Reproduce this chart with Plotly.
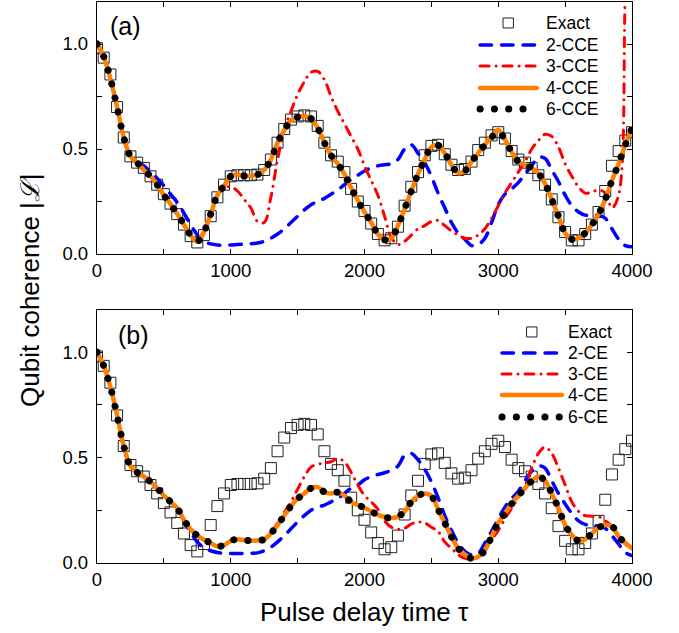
import plotly.graph_objects as go

# ---------------- data ----------------
tau = list(range(0, 4001, 50))

exact = [0.98, 0.935, 0.855, 0.70, 0.555, 0.465, 0.435, 0.41, 0.37, 0.33,
         0.285, 0.24, 0.19, 0.14, 0.085, 0.055, 0.09, 0.18, 0.27, 0.33,
         0.37, 0.375, 0.375, 0.375, 0.378, 0.40, 0.45, 0.53, 0.595, 0.64,
         0.655, 0.66, 0.655, 0.61, 0.53, 0.47, 0.44, 0.39, 0.31, 0.25,
         0.205, 0.145, 0.095, 0.065, 0.075, 0.13, 0.23, 0.32, 0.39, 0.47,
         0.515, 0.52, 0.475, 0.425, 0.40, 0.405, 0.44, 0.495, 0.53, 0.565,
         0.58, 0.55, 0.49, 0.45, 0.435, 0.41, 0.375, 0.33, 0.26, 0.175,
         0.105, 0.065, 0.065, 0.095, 0.14, 0.20, 0.30, 0.42, 0.49, 0.54,
         0.58]

# panel (a): CCE
cce2 = [1.0, 0.94, 0.835, 0.70, 0.555, 0.465, 0.435, 0.42, 0.39, 0.36,
        0.325, 0.285, 0.245, 0.195, 0.14, 0.09, 0.06, 0.048, 0.043, 0.042,
        0.043, 0.045, 0.047, 0.049, 0.052, 0.06, 0.075, 0.095, 0.12, 0.15,
        0.18, 0.21, 0.235, 0.25, 0.265, 0.285, 0.305, 0.33, 0.355, 0.375,
        0.395, 0.41, 0.42, 0.425, 0.43, 0.45, 0.50, 0.52, 0.48, 0.435,
        0.37, 0.29, 0.22, 0.15, 0.10, 0.07, 0.04, 0.045, 0.075, 0.15,
        0.235, 0.285, 0.31, 0.34, 0.38, 0.42, 0.46, 0.455, 0.40, 0.345,
        0.28, 0.23, 0.20, 0.185, 0.185, 0.185, 0.17, 0.12, 0.07, 0.04,
        0.035]
cce3 = [1.0, 0.94, 0.835, 0.70, 0.555, 0.465, 0.435, 0.40, 0.37, 0.33,
        0.28, 0.237, 0.19, 0.14, 0.09, 0.06, 0.105, 0.19, 0.28, 0.315,
        0.32, 0.30, 0.26, 0.22, 0.155, 0.15, 0.27, 0.45, 0.59, 0.68,
        0.76, 0.82, 0.865, 0.87, 0.83, 0.75, 0.68, 0.62, 0.56, 0.50,
        0.42, 0.35, 0.28, 0.18, 0.08, 0.045, 0.06, 0.09, 0.12, 0.135,
        0.155, 0.16, 0.135, 0.11, 0.09, 0.075, 0.075, 0.09, 0.12, 0.17,
        0.23, 0.29, 0.34, 0.39, 0.44, 0.50, 0.54, 0.57, 0.56, 0.51,
        0.43, 0.37, 0.32, 0.29, 0.295, 0.305, 0.29, 0.22, 0.28, 1.25,
        2.2]
cce4 = [1.0, 0.94, 0.835, 0.70, 0.555, 0.465, 0.435, 0.40, 0.37, 0.33,
        0.28, 0.237, 0.19, 0.14, 0.09, 0.06, 0.105, 0.19, 0.28, 0.325,
        0.37, 0.378, 0.372, 0.372, 0.378, 0.40, 0.45, 0.53, 0.59, 0.637,
        0.652, 0.657, 0.645, 0.60, 0.53, 0.47, 0.43, 0.38, 0.315, 0.255,
        0.20, 0.15, 0.095, 0.068, 0.075, 0.135, 0.215, 0.30, 0.38, 0.45,
        0.51, 0.518, 0.48, 0.425, 0.385, 0.395, 0.44, 0.48, 0.52, 0.56,
        0.59, 0.545, 0.485, 0.44, 0.425, 0.41, 0.385, 0.335, 0.26, 0.18,
        0.10, 0.07, 0.075, 0.10, 0.14, 0.19, 0.26, 0.35, 0.43, 0.52,
        0.60]
cce6 = [1.0, 0.94, 0.835, 0.70, 0.555, 0.465, 0.435, 0.40, 0.37, 0.33,
        0.28, 0.237, 0.19, 0.14, 0.09, 0.06, 0.105, 0.19, 0.28, 0.325,
        0.37, 0.378, 0.372, 0.372, 0.378, 0.40, 0.45, 0.53, 0.59, 0.637,
        0.652, 0.657, 0.645, 0.60, 0.53, 0.47, 0.43, 0.38, 0.315, 0.255,
        0.20, 0.15, 0.095, 0.068, 0.075, 0.135, 0.215, 0.30, 0.38, 0.45,
        0.51, 0.518, 0.48, 0.425, 0.385, 0.395, 0.44, 0.48, 0.52, 0.555,
        0.585, 0.545, 0.485, 0.44, 0.425, 0.41, 0.385, 0.335, 0.26, 0.18,
        0.10, 0.07, 0.075, 0.10, 0.14, 0.19, 0.26, 0.35, 0.43, 0.52,
        0.60]

# panel (b): CE
ce2 = [1.0, 0.935, 0.835, 0.70, 0.555, 0.46, 0.43, 0.41, 0.385, 0.355,
       0.32, 0.29, 0.26, 0.20, 0.145, 0.10, 0.072, 0.058, 0.05, 0.046,
       0.045, 0.045, 0.045, 0.046, 0.048, 0.058, 0.075, 0.10, 0.13, 0.162,
       0.195, 0.225, 0.25, 0.265, 0.275, 0.29, 0.305, 0.33, 0.355, 0.37,
       0.395, 0.41, 0.42, 0.428, 0.44, 0.46, 0.51, 0.52, 0.49, 0.445,
       0.385, 0.31, 0.225, 0.155, 0.095, 0.055, 0.038, 0.045, 0.095, 0.15,
       0.21, 0.265, 0.305, 0.34, 0.39, 0.435, 0.46, 0.45, 0.39, 0.33,
       0.28, 0.235, 0.20, 0.183, 0.178, 0.175, 0.165, 0.13, 0.09, 0.05,
       0.035]
ce3 = [1.0, 0.935, 0.835, 0.70, 0.555, 0.46, 0.43, 0.41, 0.385, 0.355,
       0.32, 0.29, 0.26, 0.205, 0.16, 0.13, 0.11, 0.095, 0.078, 0.085,
       0.105, 0.113, 0.108, 0.106, 0.108, 0.115, 0.145, 0.19, 0.24, 0.29,
       0.35, 0.41, 0.455, 0.468, 0.475, 0.48, 0.495, 0.48, 0.43, 0.37,
       0.32, 0.29, 0.255, 0.20, 0.17, 0.16, 0.165, 0.185, 0.195, 0.19,
       0.17, 0.15, 0.10, 0.07, 0.04, 0.022, 0.02, 0.035, 0.065, 0.11,
       0.155, 0.21, 0.26, 0.31, 0.365, 0.45, 0.52, 0.55, 0.52, 0.45,
       0.37, 0.29, 0.245, 0.225, 0.222, 0.22, 0.20, 0.175, 0.125, 0.09,
       0.065]
ce4 = [1.0, 0.935, 0.835, 0.70, 0.555, 0.46, 0.43, 0.41, 0.385, 0.355,
       0.32, 0.29, 0.26, 0.205, 0.16, 0.13, 0.11, 0.095, 0.078, 0.085,
       0.105, 0.113, 0.108, 0.106, 0.107, 0.112, 0.14, 0.18, 0.225, 0.27,
       0.305, 0.33, 0.355, 0.36, 0.337, 0.33, 0.335, 0.32, 0.29, 0.275,
       0.262, 0.245, 0.228, 0.218, 0.213, 0.22, 0.245, 0.29, 0.318, 0.33,
       0.318, 0.255, 0.19, 0.125, 0.07, 0.04, 0.022, 0.03, 0.06, 0.125,
       0.19, 0.235, 0.28, 0.32, 0.355, 0.39, 0.41, 0.39, 0.33, 0.26,
       0.18, 0.133, 0.105, 0.112, 0.14, 0.168, 0.18, 0.175, 0.125, 0.095,
       0.07]
ce6 = list(ce4)

labels_a = ["Exact", "2-CCE", "3-CCE", "4-CCE", "6-CCE"]
labels_b = ["Exact", "2-CE", "3-CE", "4-CE", "6-CE"]

x_ticks = [0, 1000, 2000, 3000, 4000]
y_ticks = [0.0, 0.5, 1.0]

# ---------------- styles ----------------
FONT = "Liberation Sans, Arial, sans-serif"
BLUE, RED, ORANGE = "#0000FF", "#FF0000", "#FF8000"
SQ = "#222222"
DASH_BLUE = "11.5px,10px"
DASH_RED = "9px,7px,0.1px,6.9px"
DASH_DOT = "0.1px,14.2px"

fig = go.Figure()


def add_panel(xa, ya, series):
    ex, s2, s3, s4, s6 = series
    fig.add_trace(go.Scatter(x=tau, y=ex, xaxis=xa, yaxis=ya, mode="markers",
                             marker=dict(symbol="square-open", size=11, color=SQ,
                                         line=dict(width=1, color=SQ)),
                             showlegend=False, hoverinfo="skip"))
    fig.add_trace(go.Scatter(x=tau, y=s2, xaxis=xa, yaxis=ya, mode="lines",
                             line=dict(color=BLUE, width=3.5, dash=DASH_BLUE, shape="spline"),
                             showlegend=False, hoverinfo="skip"))
    fig.add_trace(go.Scatter(x=tau, y=s3, xaxis=xa, yaxis=ya, mode="lines",
                             line=dict(color=RED, width=3, dash=DASH_RED, shape="spline"),
                             showlegend=False, hoverinfo="skip"))
    fig.add_trace(go.Scatter(x=tau, y=s4, xaxis=xa, yaxis=ya, mode="lines",
                             line=dict(color=ORANGE, width=4.5, shape="spline"),
                             showlegend=False, hoverinfo="skip"))
    fig.add_trace(go.Scatter(x=tau, y=s6, xaxis=xa, yaxis=ya, mode="lines",
                             line=dict(color="black", width=7, dash=DASH_DOT, shape="spline"),
                             showlegend=False, hoverinfo="skip"))


add_panel("x", "y", [exact, cce2, cce3, cce4, cce6])
add_panel("x2", "y2", [exact, ce2, ce3, ce4, ce6])

# ---------------- manual legends (paper coordinates) ----------------
def add_legend(labels, rows, x_line0, x_line1, x_text):
    styles = [None,
              dict(color=BLUE, width=3.5, dash=DASH_BLUE),
              dict(color=RED, width=3, dash=DASH_RED),
              dict(color=ORANGE, width=4.5),
              dict(color="black", width=7, dash=DASH_DOT)]
    for i, (lab, yy) in enumerate(zip(labels, rows)):
        if i == 0:
            fig.add_shape(type="rect", xref="paper", yref="paper",
                          xsizemode="pixel", ysizemode="pixel",
                          xanchor=(x_line0 + x_line1) / 2, yanchor=yy,
                          x0=-5, x1=5, y0=-5, y1=5,
                          line=dict(color=SQ, width=1), fillcolor="rgba(0,0,0,0)")
        else:
            fig.add_shape(type="line", xref="paper", yref="paper",
                          x0=x_line0, x1=x_line1, y0=yy, y1=yy, line=styles[i])
        fig.add_annotation(xref="paper", yref="paper", x=x_text, y=yy, text=lab,
                           showarrow=False, xanchor="left", yanchor="middle",
                           font=dict(family=FONT, size=17.5, color="black"))


add_legend(labels_a, [0.9626, 0.9234, 0.8859, 0.8467, 0.8093], 0.716, 0.822, 0.836)
add_legend(labels_b, [0.4118, 0.3743, 0.3369, 0.2995, 0.2602], 0.757, 0.869, 0.876)

fig.add_annotation(xref="paper", yref="paper", x=0.02, y=0.957, text="(a)",
                   showarrow=False, xanchor="left", yanchor="middle",
                   font=dict(family=FONT, size=25, color="black"))
fig.add_annotation(xref="paper", yref="paper", x=0.036, y=0.406, text="(b)",
                   showarrow=False, xanchor="left", yanchor="middle",
                   font=dict(family=FONT, size=25, color="black"))

# axis titles
fig.add_annotation(xref="paper", yref="paper", x=-0.125, y=0.487,
                   text="Qubit coherence |<i>ℒ</i>|", textangle=-90,
                   showarrow=False, xanchor="center", yanchor="middle",
                   font=dict(family=FONT, size=26, color="black"))
fig.add_annotation(xref="paper", yref="paper", x=0.5, y=-0.087,
                   text="Pulse delay time τ",
                   showarrow=False, xanchor="center", yanchor="middle",
                   font=dict(family=FONT, size=26, color="black"))

# ---------------- axes ----------------
tickfont = dict(family=FONT, size=18.5, color="black")
xcommon = dict(range=[0, 4000], tickvals=x_ticks, ticks="inside", ticklen=5, tickwidth=1.2,
               tickcolor="black", showline=True, linecolor="black", linewidth=1.3,
               mirror="ticks", showgrid=False, zeroline=False, tickfont=tickfont,
               automargin=False,
               minor=dict(dtick=500, tick0=0, ticks="inside", ticklen=5, tickwidth=1.2,
                          tickcolor="black", showgrid=False))
ycommon = dict(range=[0, 1.2], tickvals=y_ticks, tickformat=".1f", ticks="inside", ticklen=5,
               tickwidth=1.2, tickcolor="black", showline=True, linecolor="black",
               linewidth=1.3, mirror="ticks", showgrid=False, zeroline=False,
               tickfont=tickfont, automargin=False, ticklabelstandoff=4,
               minor=dict(dtick=0.25, tick0=0, ticks="inside", ticklen=5, tickwidth=1.2,
                          tickcolor="black", showgrid=False))

fig.update_layout(
    width=679, height=633,
    margin=dict(l=97, r=47, t=2, b=70),
    paper_bgcolor="white", plot_bgcolor="white",
    showlegend=False, hovermode=False,
    xaxis=dict(domain=[0, 1], anchor="y", **xcommon),
    yaxis=dict(domain=[0.5508, 1], anchor="x", **ycommon),
    xaxis2=dict(domain=[0, 1], anchor="y2", **xcommon),
    yaxis2=dict(domain=[0, 0.451], anchor="x2", **ycommon),
)

post = """
document.body.style.margin = '0';
var st = document.createElement('style');
st.textContent = 'body{margin:0;} .scatterlayer path.js-line, .shapelayer path {stroke-linecap: round; stroke-linejoin: round;}';
document.head.appendChild(st);
"""
fig.write_html("out.html", post_script=post, config={"displayModeBar": False})
